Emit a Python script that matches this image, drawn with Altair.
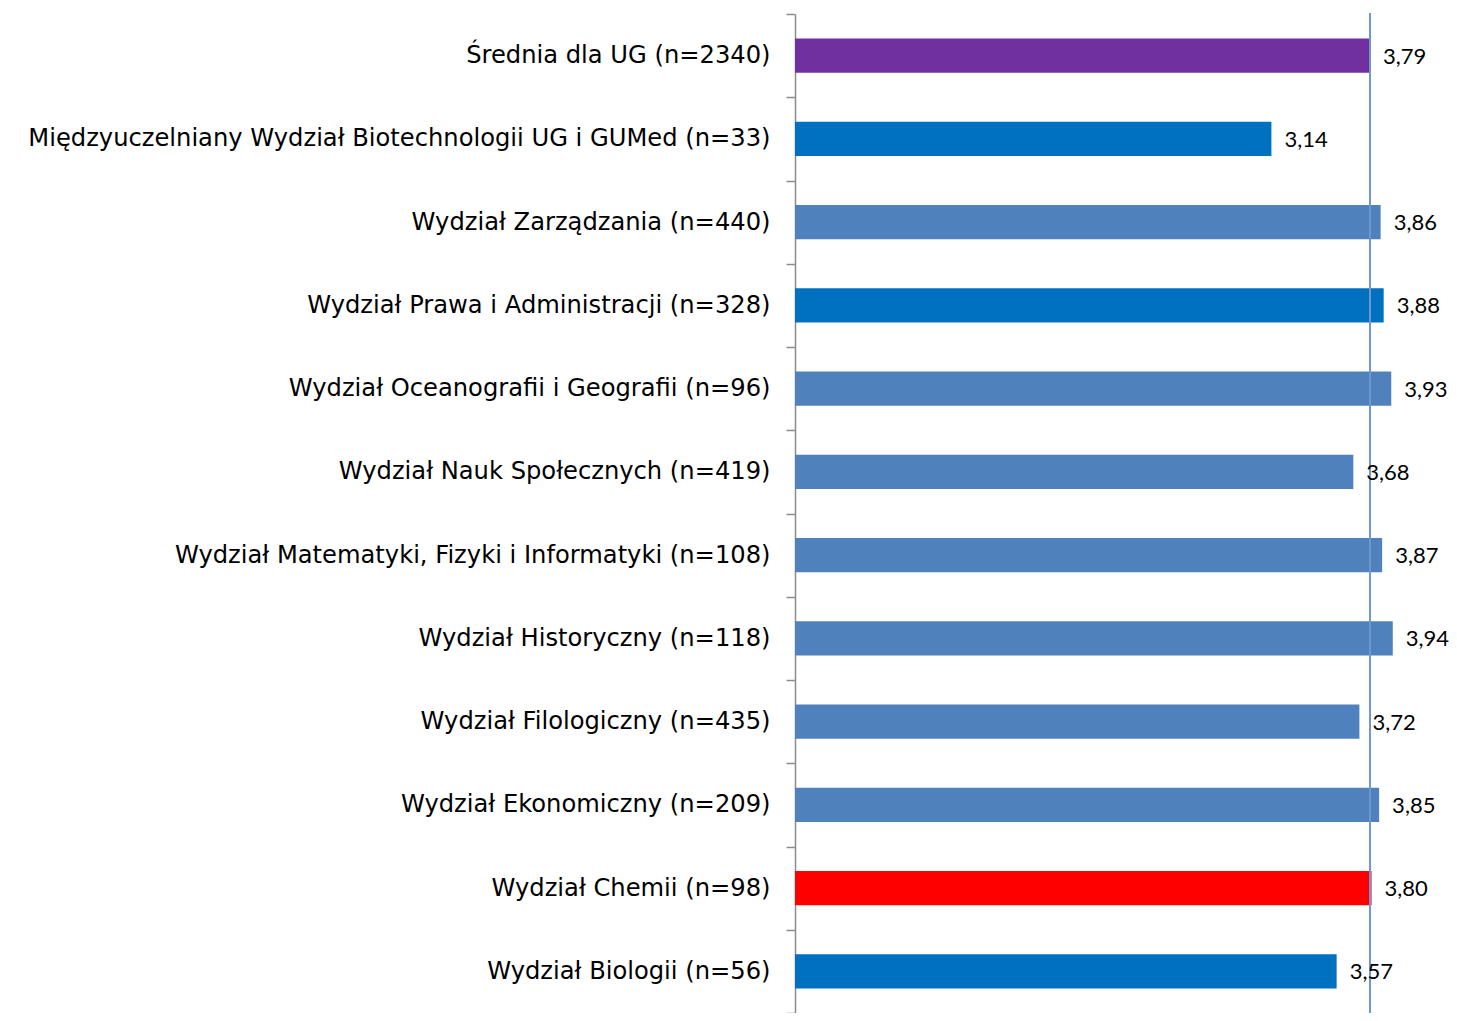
import altair as alt
import pandas as pd

categories = [
    "Średnia dla UG (n=2340)",
    "Międzyuczelniany Wydział Biotechnologii UG i GUMed (n=33)",
    "Wydział Zarządzania (n=440)",
    "Wydział Prawa i Administracji (n=328)",
    "Wydział Oceanografii i Geografii (n=96)",
    "Wydział Nauk Społecznych (n=419)",
    "Wydział Matematyki, Fizyki i Informatyki (n=108)",
    "Wydział Historyczny (n=118)",
    "Wydział Filologiczny (n=435)",
    "Wydział Ekonomiczny (n=209)",
    "Wydział Chemii (n=98)",
    "Wydział Biologii (n=56)",
]
values = [3.79, 3.14, 3.86, 3.88, 3.93, 3.68, 3.87, 3.94, 3.72, 3.85, 3.80, 3.57]
value_labels = ["3,79", "3,14", "3,86", "3,88", "3,93", "3,68", "3,87", "3,94", "3,72", "3,85", "3,80", "3,57"]
groups = ["avg", "dark", "light", "dark", "light", "light", "light", "light", "light", "light", "red", "dark"]
mean_value = 3.79

group_domain = ["avg", "dark", "light", "red"]
group_colors = ["#7030A0", "#0070C0", "#4F81BD", "#FF0000"]

df = pd.DataFrame({"cat": categories, "value": values, "label": value_labels, "group": groups})

PAD_L = 787
PLOT_W = 646
PLOT_H = 999
XMAX = 646 / 151.72

xscale = alt.Scale(domain=[0, XMAX], nice=False, zero=True)
y = alt.Y(
    "cat:N",
    sort=categories,
    title=None,
    scale=alt.Scale(paddingInner=0, paddingOuter=0),
    axis=alt.Axis(
        tickBand="extent",
        domainColor="#8c8c8c",
        domainWidth=1.5,
        tickColor="#8c8c8c",
        tickWidth=1.5,
        tickSize=9,
        labelFont="DejaVu Sans",
        labelFontSize=24.2,
        labelColor="black",
        labelPadding=16,
        labelLimit=1000,
        grid=False,
    ),
)
x = alt.X("value:Q", scale=xscale, axis=None)

bars = alt.Chart(df).mark_bar(height=alt.RelativeBandSize(0.41)).encode(
    x=x,
    y=y,
    color=alt.Color("group:N", scale=alt.Scale(domain=group_domain, range=group_colors), legend=None),
)
text = alt.Chart(df).mark_text(
    align="left", baseline="middle", dx=13, dy=1, fontSize=22, font="Lato", color="black"
).encode(x=x, y=y, text="label:N")

rule = alt.Chart(pd.DataFrame({"m": [mean_value]})).mark_rule(
    color="#6F98D0", strokeWidth=2
).encode(x=alt.X("m:Q", scale=xscale, axis=None), y=alt.value(-1), y2=alt.value(PLOT_H + 10))

chart = (
    alt.layer(bars, rule, text)
    .properties(
        width=PLOT_W,
        height=PLOT_H,
        autosize=alt.AutoSizeParams(type="none"),
        padding={"left": PAD_L, "top": 6, "right": 1441 - PAD_L - PLOT_W, "bottom": 0},
    )
    .configure_view(stroke=None)
)

chart.save("out.html", embed_options={"renderer": "svg", "actions": False})
